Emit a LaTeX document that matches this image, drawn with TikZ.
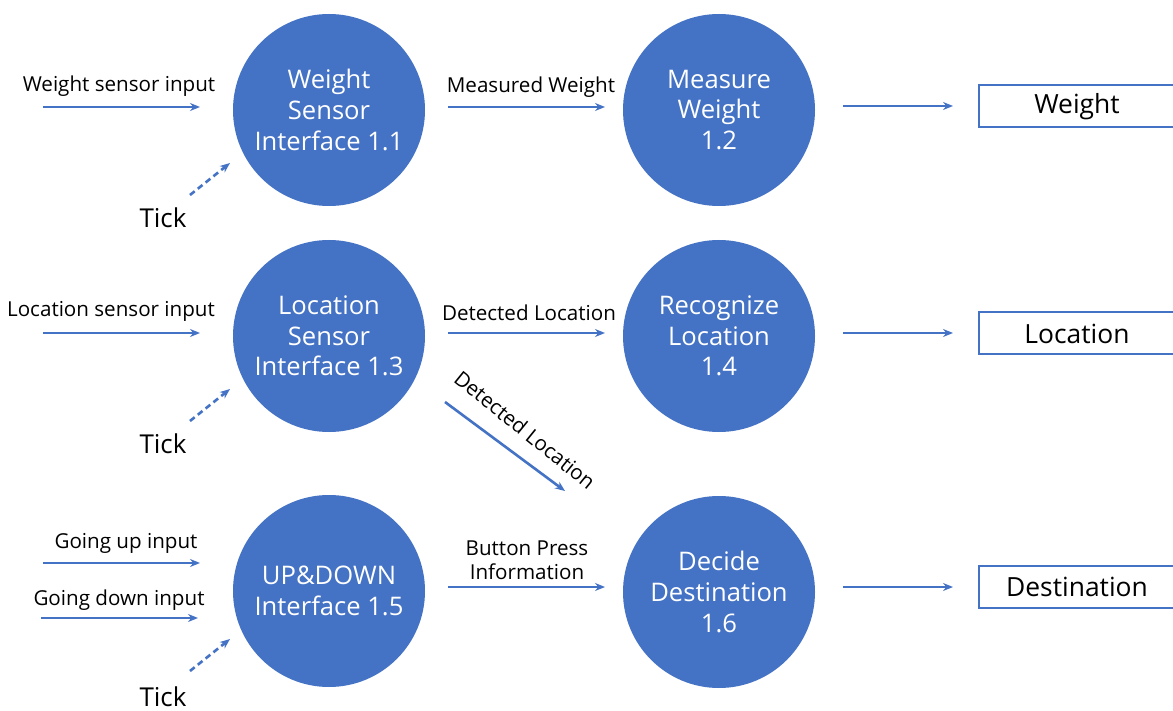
\documentclass[tikz,border=0pt]{standalone}
\usepackage{fontspec}
\setmainfont{Open Sans}
\usetikzlibrary{arrows.meta}
\definecolor{ofblue}{HTML}{4472C4}
\begin{document}
\begin{tikzpicture}[x=0.5pt,y=-0.5pt,
  proc/.style={circle,fill=ofblue,draw=none,minimum size=96pt,inner sep=0pt,align=center,
    text=white,font=\fontsize{12.8}{15.3}\selectfont},
  flow/.style={draw=ofblue,line width=1.3pt,-{Stealth[length=5pt,width=4pt]}},
  tickflow/.style={flow,dash pattern=on 3pt off 2pt},
  lbl/.style={font=\fontsize{10.3}{11.8}\selectfont,inner sep=0pt,align=center},
  ticklbl/.style={font=\fontsize{13}{15}\selectfont,inner sep=0pt},
  store/.style={draw=ofblue,line width=1pt,minimum width=110pt,minimum height=21pt,anchor=west,inner sep=0pt},
  storetxt/.style={font=\fontsize{13.2}{15}\selectfont,inner sep=0pt}]
\clip (0,0) rectangle (1173,711);
\fill[white] (0,0) rectangle (1173,711);

% processes
\node[proc] (p11) at (329,110) {Weight\\Sensor\\Interface 1.1};
\node[proc] (p12) at (719,110) {Measure\\Weight\\1.2};
\node[proc] (p13) at (329,336) {Location\\Sensor\\Interface 1.3};
\node[proc] (p14) at (719,336) {Recognize\\Location\\1.4};
\node[proc] (p15) at (329,591) {UP\&DOWN\\Interface 1.5};
\node[proc] (p16) at (719,592) {Decide\\Destination\\1.6};

% stores
\node[store] (s1) at (978,106) {};
\node[store] (s2) at (978,333) {};
\node[store] (s3) at (978,587) {};
\node[storetxt] (t1) at (1077,107) {Weight};
\node[storetxt] (t2) at (1077,334) {Location};
\node[storetxt] (t3) at (1077,587) {Destination};

% coordinates
\coordinate (a1s) at (43,107);  \coordinate (a1e) at (200,107);
\coordinate (k1s) at (190,195); \coordinate (k1e) at (230,163);
\coordinate (m1s) at (448,107); \coordinate (m1e) at (605,107);
\coordinate (o1s) at (843,106); \coordinate (o1e) at (953,106);

\coordinate (a2s) at (43,333);  \coordinate (a2e) at (200,333);
\coordinate (k2s) at (190,421); \coordinate (k2e) at (230,389);
\coordinate (m2s) at (448,333); \coordinate (m2e) at (605,333);
\coordinate (o2s) at (843,333); \coordinate (o2e) at (953,333);
\coordinate (dgs) at (445,402); \coordinate (dge) at (565,491);

\coordinate (a3s) at (43,563);  \coordinate (a3e) at (200,563);
\coordinate (a4s) at (41,618);  \coordinate (a4e) at (198,618);
\coordinate (k3s) at (190,671); \coordinate (k3e) at (230,639);
\coordinate (m3s) at (448,587); \coordinate (m3e) at (605,587);
\coordinate (o3s) at (843,587); \coordinate (o3e) at (953,587);

% flows
\draw[flow] (a1s) -- (a1e);
\draw[tickflow] (k1s) -- (k1e);
\draw[flow] (m1s) -- (m1e);
\draw[flow,line width=1pt] (o1s) -- (o1e);

\draw[flow] (a2s) -- (a2e);
\draw[tickflow] (k2s) -- (k2e);
\draw[flow] (m2s) -- (m2e);
\draw[flow,line width=1pt] (o2s) -- (o2e);
\draw[flow] (dgs) -- (dge);

\draw[flow] (a3s) -- (a3e);
\draw[flow] (a4s) -- (a4e);
\draw[tickflow] (k3s) -- (k3e);
\draw[flow] (m3s) -- (m3e);
\draw[flow,line width=1pt] (o3s) -- (o3e);

% labels
\node[lbl] (l1) at (119,86) {Weight sensor input};
\node[ticklbl] (tk1) at (163,218) {Tick};
\node[lbl] (l2) at (531,87) {Measured Weight};

\node[lbl] (l3) at (111,311) {Location sensor input};
\node[ticklbl] (tk2) at (163,444) {Tick};
\node[lbl] (l4) at (529,313) {Detected Location};
\node[lbl,rotate=-39] (l5) at (525,430) {Detected Location};

\node[lbl] (l6) at (126,543) {Going up input};
\node[lbl] (l7) at (119,600) {Going down input};
\node[ticklbl] (tk3) at (163,697) {Tick};
\node[lbl] (l8) at (527,560) {Button Press\\Information};
\end{tikzpicture}
\end{document}
